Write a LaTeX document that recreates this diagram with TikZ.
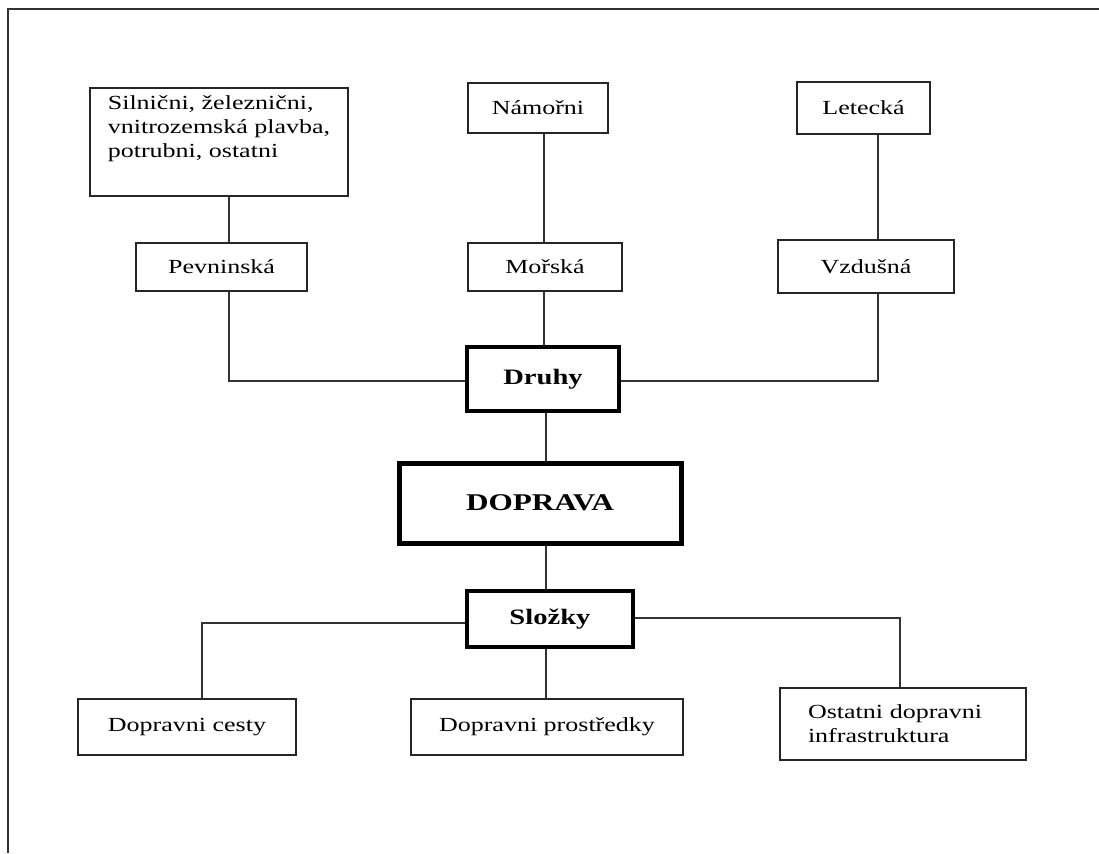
\documentclass[tikz,border=0pt]{standalone}
\usepackage{fontspec}
\setmainfont{Liberation Serif}[FakeStretch=1.3]
\begin{document}
\begin{tikzpicture}[x=1pt,y=-1pt,
  box/.style={draw=black!85, line width=2pt, rectangle, inner sep=0pt,
    font=\fontsize{20}{24}\selectfont, align=center},
  mlbox/.style={box, align=left},
  midbox/.style={draw=black, line width=3.5pt, rectangle, inner sep=0pt,
    font=\fontsize{22}{26}\selectfont\bfseries},
  mainbox/.style={draw=black, line width=5pt, rectangle, inner sep=0pt,
    font=\fontsize{24}{28}\selectfont\bfseries},
  conn/.style={draw=black!80, line width=2pt},
  frame/.style={draw=black!80, line width=2.2pt}]
\useasboundingbox (0,0) rectangle (1099,853);
% outer frame (only top and left edges visible)
\coordinate (fa) at (8,853);
\coordinate (fb) at (8,9);
\coordinate (fc) at (1100,9);
\draw[frame] (fa) -- (fb) -- (fc);

% boxes
\node[mlbox, minimum width=258, minimum height=108] (sil) at (219,142)
  {Silnični, železnični,\\vnitrozemská plavba,\\potrubni, ostatni\\[6pt]};
\node[box, minimum width=171, minimum height=48] (pev) at (221.5,267) {Pevninská};
\node[box, minimum width=140, minimum height=50] (nam) at (538,108) {Námořni};
\node[box, minimum width=154, minimum height=48] (mor) at (545,267) {Mořská};
\node[box, minimum width=133, minimum height=52] (let) at (863.5,108) {Letecká};
\node[box, minimum width=176, minimum height=53] (vzd) at (866,266.5) {Vzdušná};
\node[midbox, minimum width=152, minimum height=64] (druhy) at (543,379) {Druhy};
\node[mainbox, minimum width=282, minimum height=80] (dop) at (540,503) {DOPRAVA};
\node[midbox, minimum width=166, minimum height=56] (slo) at (550,619) {Složky};
\node[box, minimum width=218, minimum height=56] (ces) at (187,727) {Dopravni cesty};
\node[box, minimum width=272, minimum height=56] (pro) at (547,727) {Dopravni prostředky};
\node[mlbox, text width=190, minimum width=246, minimum height=72] (ost) at (903,724)
  {Ostatni dopravni\\infrastruktura};

% connector x positions
\coordinate (xa) at (228.5,0);
\coordinate (xm) at (544,0);
\coordinate (xl) at (877.5,0);
\coordinate (xd) at (546,0);
\coordinate (yl) at (0,381);
\coordinate (ysl) at (0,623);
\coordinate (ysr) at (0,618);
\coordinate (xcl) at (202,0);
\coordinate (xcr) at (900,0);

% top connectors
\draw[conn] (sil.south -| xa) -- (pev.north -| xa);
\draw[conn] (nam.south -| xm) -- (mor.north -| xm);
\draw[conn] (let.south -| xl) -- (vzd.north -| xl);
\draw[conn] (pev.south -| xa) -- (xa |- yl) -- (druhy.west |- yl);
\draw[conn] (mor.south -| xm) -- (druhy.north -| xm);
\draw[conn] (vzd.south -| xl) -- (xl |- yl) -- (druhy.east |- yl);
% centre
\draw[conn] (druhy.south -| xd) -- (dop.north -| xd);
\draw[conn] (dop.south -| xd) -- (slo.north -| xd);
% bottom connectors
\draw[conn] (slo.west |- ysl) -- (xcl |- ysl) -- (ces.north -| xcl);
\draw[conn] (slo.south -| xd) -- (pro.north -| xd);
\draw[conn] (slo.east |- ysr) -- (xcr |- ysr) -- (ost.north -| xcr);
\end{tikzpicture}
\end{document}
